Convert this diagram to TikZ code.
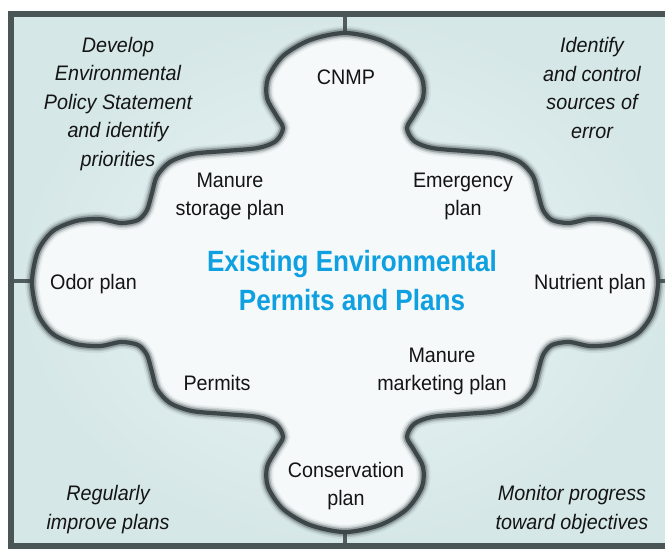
\documentclass[tikz,border=0pt]{standalone}
\usepackage{fontspec}
\setmainfont{Liberation Sans}[FakeStretch=0.94]
\newfontfamily\ttlfamily{Liberation Sans}[FakeStretch=0.89]
\definecolor{outln}{HTML}{3D4749}
\definecolor{bordc}{HTML}{4A5556}
\definecolor{divc}{HTML}{505C5D}
\definecolor{txt}{HTML}{141414}
\definecolor{ttlblue}{HTML}{0EA0E0}
\definecolor{shapefill}{HTML}{F5F9FA}
\definecolor{bgin}{HTML}{EAF4F4}
\definecolor{bgout}{HTML}{D6E7E8}
\tikzset{
  lbl/.style={font=\fontsize{21}{28}\selectfont, align=center, inner sep=0pt, anchor=base, text=txt},
  note/.style={lbl, font=\fontsize{21}{28.5}\selectfont\itshape},
  ttl/.style={font=\ttlfamily\bfseries\fontsize{29.3}{39}\selectfont, align=center, inner sep=0pt, anchor=base, text=ttlblue},
  divline/.style={draw=divc, line width=4},
  shfill/.style={fill=shapefill},
  blurA/.style={draw=outln, line width=14, opacity=0.08},
  blurB/.style={draw=outln, line width=10.5, opacity=0.16},
  blurC/.style={draw=outln, line width=7.5, opacity=0.32},
  corel/.style={draw=outln, line width=4.2},
}
\begin{document}
\begin{tikzpicture}[x=1pt,y=-1pt]
\useasboundingbox (0,0) rectangle (665,549);
\fill[white] (0,0) rectangle (665,549);
\shade[inner color=bgin, outer color=bgout] (11,13.5) rectangle (676,546);
% dividers
\coordinate (vt1) at (345,13); \coordinate (vt2) at (345,40);
\coordinate (vb1) at (345,525); \coordinate (vb2) at (345,546);
\coordinate (hl1) at (11,281); \coordinate (hl2) at (40,281);
\coordinate (hr1) at (650,281); \coordinate (hr2) at (670,281);
\draw[divline] (vt1) -- (vt2);
\draw[divline] (vb1) -- (vb2);
\draw[divline] (hl1) -- (hl2);
\draw[divline] (hr1) -- (hr2);
% frame
\draw[bordc, line width=6] (11,13.5) rectangle (676,546);
% central shape
\foreach \sty in {shfill, blurA, blurB, blurC, corel}{
\path[\sty] plot[smooth cycle, tension=0.5] coordinates {
(345,33) (310,40) (283,56) (268,78) (267,98) (276,115) (283,128) (276,141) (258,148) (225,151) (192,154) (170,162) (157,176) (152,193) (147,210) (138,220) (121,223) (100,219) (76,221) (53,231) (38,251) (32,282.5)
(38,314) (53,334) (76,344) (100,346) (121,342) (138,345) (147,355) (152,372) (157,389) (170,403) (192,411) (225,414) (258,417) (276,424) (283,437) (276,450) (267,467) (268,487) (283,509) (310,525) (345,532)
(380,525) (407,509) (422,487) (423,467) (414,450) (407,437) (414,424) (432,417) (465,414) (498,411) (520,403) (533,389) (538,372) (543,355) (552,345) (569,342) (590,346) (614,344) (637,334) (652,314) (658,282.5)
(652,251) (637,231) (614,221) (590,219) (569,223) (552,220) (543,210) (538,193) (533,176) (520,162) (498,154) (465,151) (432,148) (414,141) (407,128) (414,115) (423,98) (422,78) (407,56) (380,40)
};
}
% labels (anchor base = baseline of the last line)
\node[note] (dev) at (118,166) {Develop\\Environmental\\Policy Statement\\and identify\\priorities};
\node[note] (ident) at (592,138) {Identify\\and control\\sources of\\error};
\node[lbl] (cnmp) at (346,84.5) {CNMP};
\node[lbl] (mstor) at (230,215) {Manure\\storage plan};
\node[lbl] (emer) at (463,215) {Emergency\\plan};
\node[lbl] (odor) at (93.5,289) {Odor plan};
\node[lbl] (nutr) at (590,289) {Nutrient plan};
\node[ttl] (title) at (352,310) {Existing Environmental\\Permits and Plans};
\node[lbl] (mmkt) at (442,390) {Manure\\marketing plan};
\node[lbl] (perm) at (217,390) {Permits};
\node[lbl] (cons) at (346,505) {Conservation\\plan};
\node[note] (reg) at (108,529.4) {Regularly\\improve plans};
\node[note] (mon) at (572,529.4) {Monitor progress\\toward objectives};
\end{tikzpicture}
\end{document}
